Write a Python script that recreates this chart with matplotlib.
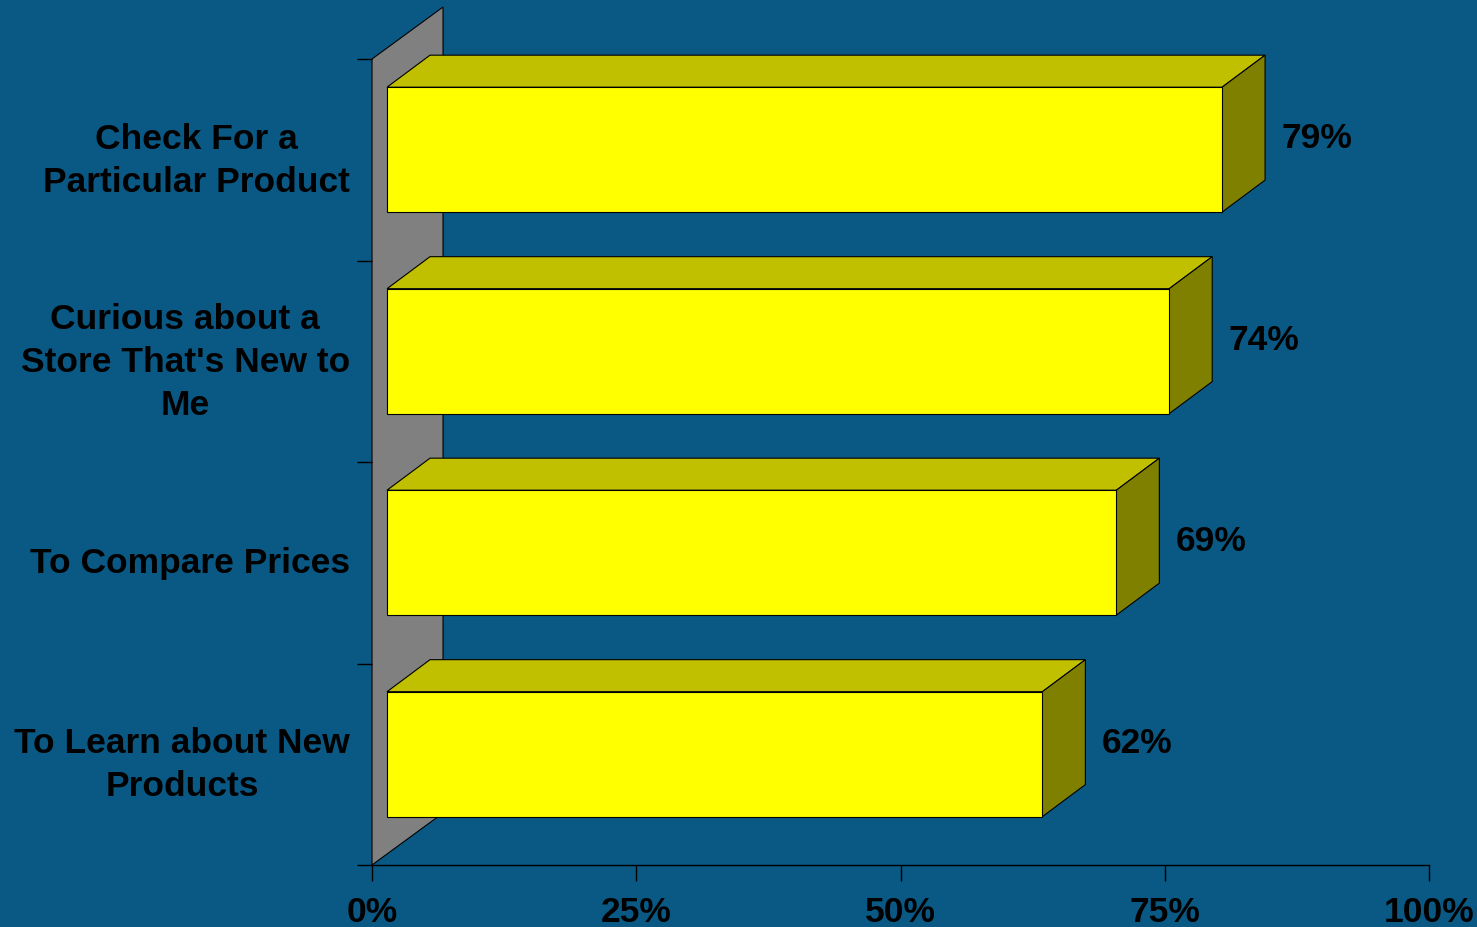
import matplotlib.pyplot as plt
from matplotlib.patches import Polygon

plt.rcParams['font.family'] = ['Liberation Sans', 'DejaVu Sans']
plt.rcParams['font.weight'] = 'bold'

# bottom to top
categories = ["To Learn about New\nProducts",
              "To Compare Prices",
              "Curious about a\nStore That's New to\nMe",
              "Check For a\nParticular Product"]
values = [62, 69, 74, 79]
xticks = [0, 25, 50, 75, 100]
xticklabels = ["0%", "25%", "50%", "75%", "100%"]

bg = "#0A5985"
front_col = "#FFFF00"
top_col = "#C0C000"
side_col = "#808000"
wall_col = "#808080"
fs = 25.5

# 3D look, in data units
x0 = 1.42          # gap between wall and bar front
dx, dy = 4.07, 0.159   # bar depth
wdx, wdy = 6.72, 0.258  # wall depth
lo, hi = 0.24, 0.86     # bar front face inside each category slot

fig = plt.figure(figsize=(14.77, 9.28), dpi=100)
fig.patch.set_facecolor(bg)
ax = fig.add_axes([372 / 1477, 62 / 928, 1057 / 1477, 806 / 928])
ax.set_facecolor(bg)
ax.set_xlim(0, 100)
ax.set_ylim(0, len(categories))

# back wall
wall = Polygon([(0, 0), (0, 4), (wdx, 4 + wdy), (wdx, wdy)], closed=True,
               facecolor=wall_col, edgecolor="black", linewidth=0.8,
               clip_on=False, zorder=1)
ax.add_patch(wall)

for i, v in enumerate(values):
    b, t = i + lo, i + hi
    xr = x0 + v
    front = Polygon([(x0, b), (xr, b), (xr, t), (x0, t)], closed=True,
                    facecolor=front_col, edgecolor="black", linewidth=0.8,
                    clip_on=False, zorder=3)
    top = Polygon([(x0, t), (xr, t), (xr + dx, t + dy), (x0 + dx, t + dy)],
                  closed=True, facecolor=top_col, edgecolor="black",
                  linewidth=0.8, clip_on=False, zorder=2)
    side = Polygon([(xr, b), (xr + dx, b + dy), (xr + dx, t + dy), (xr, t)],
                   closed=True, facecolor=side_col, edgecolor="black",
                   linewidth=0.8, clip_on=False, zorder=2)
    for p in (top, side, front):
        ax.add_patch(p)
    ax.annotate(f"{v}%", xy=(xr + dx, (b + t) / 2 + dy / 2),
                xytext=(12, -3), textcoords="offset points",
                ha="left", va="center", fontsize=fs, fontweight="bold",
                color="black")

# axes
for s in ("top", "right", "left"):
    ax.spines[s].set_visible(False)
ax.spines["bottom"].set_color("black")
ax.spines["bottom"].set_linewidth(1.0)
ax.spines["bottom"].set_zorder(0)

ax.set_xticks(xticks)
ax.set_xticklabels(xticklabels, fontsize=fs, fontweight="bold")
ax.tick_params(axis="x", direction="out", length=11.5, width=1.0,
               color="black", pad=10, labelcolor="black")

ax.set_yticks([i + 0.5 for i in range(len(categories))])
ax.set_yticklabels(categories, fontsize=fs, fontweight="bold",
                   multialignment="center", linespacing=1.38)
for lab in ax.get_yticklabels():
    lab.set_verticalalignment("center")
ax.set_yticks(range(len(categories) + 1), minor=True)
ax.tick_params(axis="y", which="major", length=0, pad=16, labelcolor="black")
ax.tick_params(axis="y", which="minor", direction="out", length=11,
               width=1.0, color="black")

fig.savefig("out.png", dpi=100, facecolor=bg)
